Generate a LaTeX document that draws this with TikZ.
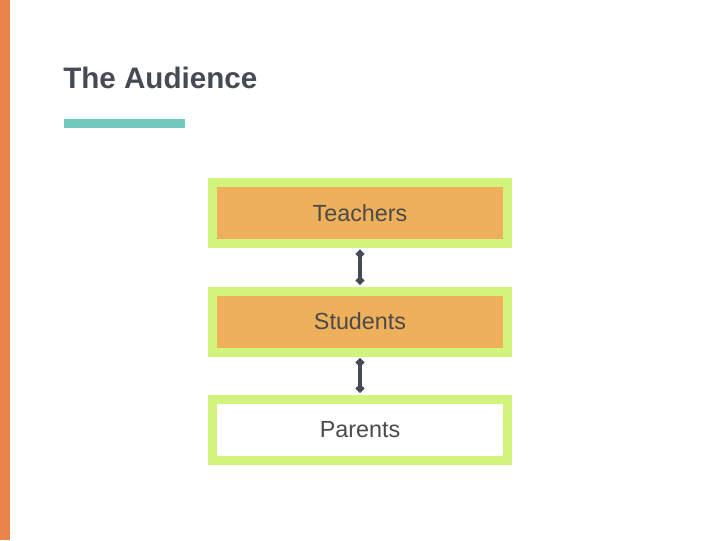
\documentclass[tikz,border=0pt]{standalone}
\usepackage{fontspec}
\setmainfont{Liberation Sans}
\usetikzlibrary{arrows.meta}
\definecolor{sideorange}{HTML}{E8844A}
\definecolor{titlegray}{HTML}{454A55}
\definecolor{teal}{HTML}{72C9BE}
\definecolor{lime}{HTML}{D2F37C}
\definecolor{boxorange}{HTML}{EEB05A}
\definecolor{textgray}{HTML}{4A4A4A}
\definecolor{arrowgray}{HTML}{454A55}
\tikzset{
  audbox/.style={draw=lime, line width=6.75pt, minimum width=221.25pt, minimum height=45.75pt, inner sep=0pt, font=\fontsize{17.5}{20}\selectfont, text=textgray},
  filledbox/.style={audbox, fill=boxorange},
  plainbox/.style={audbox, fill=white},
  link/.style={draw=arrowgray, line width=2.4pt, {Diamond[length=7pt,width=7pt]}-{Diamond[length=7pt,width=7pt]}, shorten <=1pt, shorten >=1pt}
}
\begin{document}
\begin{tikzpicture}[x=0.75pt,y=-0.75pt]
\useasboundingbox (0,0) rectangle (720,540);
\fill[white] (0,0) rectangle (720,540);
\fill[sideorange] (0,0) rectangle (10,540);
\node[anchor=base west, inner sep=0pt, text=titlegray, font=\bfseries\fontsize{22.2}{26}\selectfont] (title) at (63,88) {The Audience};
\fill[teal] (64,119) rectangle (185,128);
\node[filledbox] (teachers) at (360,213) {Teachers};
\node[filledbox] (students) at (360,321.5) {Students};
\node[plainbox] (parents) at (360,429.5) {Parents};
\draw[link] (teachers.south) -- (students.north);
\draw[link] (students.south) -- (parents.north);
\end{tikzpicture}
\end{document}
